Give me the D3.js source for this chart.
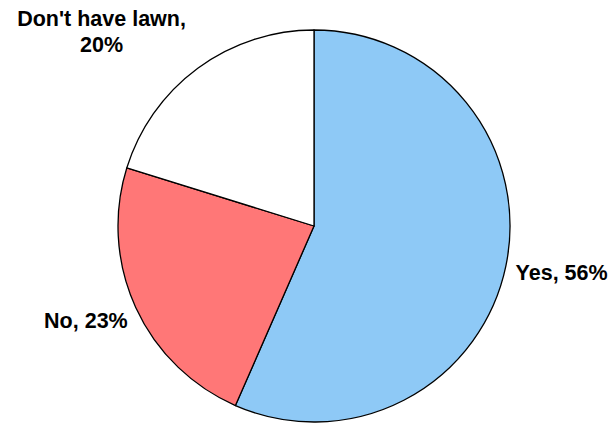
<!DOCTYPE html>
<html>
<head>
<meta charset="utf-8">
<script src="https://cdn.jsdelivr.net/npm/d3@7/dist/d3.min.js"></script>
<style>
html,body{margin:0;padding:0;background:#fff;}
text{font-family:"Liberation Sans",Arial,sans-serif;font-weight:bold;fill:#000;}
</style>
</head>
<body>
<svg id="chart" width="615" height="424"></svg>
<script>
const categories = ["Yes", "No", "Don't have lawn"];
const values = [56, 23, 20];
const labelLines = [["Yes, 56%"], ["No, 23%"], ["Don't have lawn,", "20%"]];
const colors = ["#8ec9f6", "#ff7777", "#ffffff"];

const W = 615, H = 424;
const cx = 314, cy = 226, R = 196;
const svg = d3.select("#chart");
const g = svg.append("g").attr("transform", `translate(${cx},${cy})`);

const pie = d3.pie().sort(null).value(d => d.v);
const data = categories.map((c, i) => ({c, v: values[i], i}));
const arcs = pie(data);
const arc = d3.arc().innerRadius(0).outerRadius(R);

g.selectAll("path").data(arcs).enter().append("path")
  .attr("d", arc)
  .attr("fill", d => colors[d.data.i])
  .attr("stroke", "#000")
  .attr("stroke-width", 1.3)
  .attr("stroke-linejoin", "round");

// label placement (layout): radius from centre and angular shift per label
const labelLayout = [
  {r: 252, shift: -0.02},
  {r: 247, shift: 0.035},
  {r: 288, shift: -0.195}
];
const fs = 21.5, lh = 26;
arcs.forEach((d, k) => {
  const mid = (d.startAngle + d.endAngle) / 2 + labelLayout[k].shift;
  const x = Math.sin(mid) * labelLayout[k].r;
  const y = -Math.cos(mid) * labelLayout[k].r;
  const lines = labelLines[d.data.i];
  const t = g.append("text")
    .attr("text-anchor", "middle")
    .attr("font-size", fs + "px")
    .attr("x", x).attr("y", y);
  const y0 = fs * 0.36 - (lines.length - 1) * lh / 2;
  lines.forEach((ln, j) => {
    t.append("tspan").attr("x", x).attr("y", y + y0 + j * lh).text(ln);
  });
});
</script>
</body>
</html>
